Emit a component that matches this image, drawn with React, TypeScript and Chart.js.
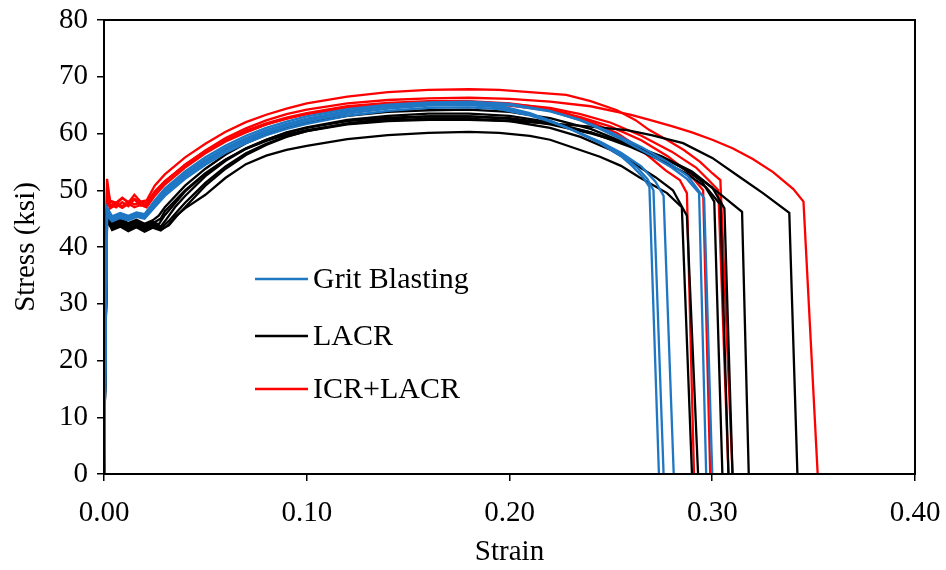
import React, { useEffect, useRef } from "react";
import { Chart, registerables } from "chart.js";

Chart.register(...registerables);

// ---------- axis ranges / ticks ----------
const X_MIN = 0;
const X_MAX = 0.4;
const X_STEP = 0.1;
const Y_MIN = 0;
const Y_MAX = 80;
const Y_STEP = 10;
const X_TITLE = "Strain";
const Y_TITLE = "Stress (ksi)";

// ---------- legend ----------
const GROUP_NAMES = ["Grit Blasting", "LACR", "ICR+LACR"];
const GROUP_COLORS = ["#1F77C4", "#000000", "#FF0000"];

// ---------- Grit Blasting curves [strain, stress] ----------
const gb1 = [[0,0],[0.0015,46.5],[0.004,45],[0.008,45.6],[0.012,45.2],[0.016,45.8],[0.02,45.5],[0.025,47.8],[0.03,49.8],[0.04,52.8],[0.05,55.2],[0.06,57.3],[0.07,59],[0.08,60.4],[0.09,61.5],[0.10,62.4],[0.12,63.8],[0.14,64.7],[0.16,65.2],[0.18,65.3],[0.195,64.9],[0.21,63.6],[0.22,62.3],[0.23,60.8],[0.2446,58.3],[0.255,56],[0.261,54.1],[0.266,52.2],[0.269,50.6],[0.2737,0]];
const gb2 = [[0,0],[0.0015,46],[0.004,44.8],[0.008,45.3],[0.012,44.9],[0.016,45.5],[0.02,45.2],[0.025,47.4],[0.03,49.4],[0.04,52.4],[0.05,54.9],[0.06,57],[0.07,58.7],[0.08,60.1],[0.09,61.2],[0.10,62.1],[0.12,63.5],[0.14,64.4],[0.16,64.9],[0.18,65],[0.195,64.6],[0.21,63.4],[0.22,62.2],[0.23,60.8],[0.245,58.4],[0.255,56.3],[0.263,54],[0.268,52],[0.271,50],[0.276,0]];
const gb3 = [[0,0],[0.0015,45.5],[0.004,44.5],[0.008,45.1],[0.012,44.7],[0.016,45.3],[0.02,45],[0.025,47],[0.03,49],[0.04,52],[0.05,54.5],[0.06,56.6],[0.07,58.3],[0.08,59.7],[0.09,60.8],[0.10,61.7],[0.12,63.1],[0.14,64],[0.16,64.5],[0.18,64.6],[0.195,64.3],[0.21,63.2],[0.22,62.1],[0.23,60.8],[0.245,58.5],[0.255,56.6],[0.265,54.2],[0.272,51.5],[0.276,49],[0.281,0]];
const gb4 = [[0,0],[0.0015,47],[0.004,45.4],[0.008,46],[0.012,45.5],[0.016,46.1],[0.02,45.8],[0.025,48.2],[0.03,50.3],[0.04,53.3],[0.05,55.8],[0.06,57.9],[0.07,59.6],[0.08,61],[0.09,62.1],[0.10,63],[0.12,64.3],[0.14,65.1],[0.16,65.5],[0.18,65.6],[0.20,65.2],[0.22,64],[0.235,62.3],[0.2446,60.8],[0.255,59],[0.269,56.3],[0.28,54],[0.2875,52],[0.2935,49.5],[0.297,0]];
const gb5 = [[0,0],[0.0015,46.2],[0.004,45.2],[0.008,45.8],[0.012,45.3],[0.016,45.9],[0.02,45.6],[0.025,47.8],[0.03,49.9],[0.04,52.9],[0.05,55.4],[0.06,57.5],[0.07,59.2],[0.08,60.6],[0.09,61.7],[0.10,62.6],[0.12,64],[0.14,64.8],[0.16,65.2],[0.18,65.3],[0.20,65],[0.22,63.9],[0.235,62.4],[0.25,60.2],[0.265,57.6],[0.278,55],[0.288,52.5],[0.296,48.6],[0.300,0]];

// ---------- LACR curves ----------
const lacr1 = [[0,0],[0.0015,45],[0.004,43],[0.008,43.6],[0.012,42.8],[0.016,43.5],[0.02,42.7],[0.024,43.4],[0.028,42.9],[0.032,44],[0.035,45.3],[0.04,46.8],[0.05,49.2],[0.06,52.2],[0.07,54.6],[0.08,56.1],[0.09,57.1],[0.10,57.8],[0.12,59],[0.14,59.7],[0.16,60.1],[0.18,60.3],[0.195,60.1],[0.21,59.6],[0.22,58.9],[0.2446,55.9],[0.255,54.3],[0.264,52.3],[0.2777,49.5],[0.285,47],[0.290,0]];
const lacr2 = [[0,0],[0.0015,46],[0.004,44],[0.008,44.6],[0.012,43.8],[0.016,44.4],[0.02,43.6],[0.024,44.2],[0.028,45],[0.03,46.3],[0.04,50],[0.05,53],[0.06,55.4],[0.07,57.3],[0.08,58.7],[0.09,59.8],[0.10,60.6],[0.12,61.7],[0.14,62.3],[0.16,62.6],[0.18,62.6],[0.20,62.2],[0.22,61],[0.235,59.4],[0.25,57.1],[0.261,54.8],[0.272,52.3],[0.2806,50],[0.2875,45.5],[0.293,0]];
const lacr3 = [[0,0],[0.0015,46.5],[0.004,44.5],[0.008,45],[0.012,44.2],[0.016,44.8],[0.02,44.1],[0.024,44.7],[0.027,45.5],[0.03,47],[0.04,50.8],[0.05,53.8],[0.06,56.3],[0.07,58.3],[0.08,59.8],[0.09,61],[0.10,61.9],[0.12,63.1],[0.14,63.8],[0.16,64.1],[0.18,64.2],[0.20,63.8],[0.22,62.7],[0.24,60.8],[0.261,57.8],[0.275,55.7],[0.2856,54],[0.295,51.5],[0.301,48],[0.305,0]];
const lacr4 = [[0,0],[0.0015,45.5],[0.004,43.8],[0.008,44.4],[0.012,43.6],[0.016,44.3],[0.02,43.5],[0.024,44],[0.028,43.6],[0.031,45],[0.035,47],[0.04,49],[0.05,52.5],[0.06,55.2],[0.07,57.3],[0.08,58.9],[0.09,60.2],[0.10,61.1],[0.12,62.4],[0.14,63.1],[0.16,63.5],[0.18,63.5],[0.20,63.1],[0.22,62],[0.24,60.2],[0.26,57.6],[0.275,55.2],[0.287,53],[0.297,50.5],[0.304,47.5],[0.308,0]];
const lacr5 = [[0,0],[0.0015,46],[0.004,44.2],[0.008,44.8],[0.012,44],[0.016,44.6],[0.02,43.9],[0.024,44.4],[0.027,44],[0.03,45.6],[0.04,49.8],[0.05,52.9],[0.06,55.4],[0.07,57.4],[0.08,58.9],[0.09,60.1],[0.10,61],[0.12,62.2],[0.14,62.8],[0.16,63],[0.18,63],[0.20,62.6],[0.22,61.6],[0.24,60],[0.26,58],[0.28,55],[0.295,51.8],[0.305,49],[0.3147,46.2],[0.318,0]];
const lacr6 = [[0,0],[0.0015,45.2],[0.004,43.5],[0.008,44.1],[0.012,43.3],[0.016,43.9],[0.02,43.2],[0.024,43.8],[0.028,43.3],[0.032,44.6],[0.036,46.2],[0.04,47.8],[0.05,51.3],[0.06,54.2],[0.07,56.5],[0.08,58.2],[0.09,59.5],[0.10,60.4],[0.12,61.6],[0.14,62.2],[0.16,62.4],[0.18,62.4],[0.20,62.2],[0.22,61.8],[0.24,61.2],[0.258,60.6],[0.27,59.7],[0.2856,58.3],[0.30,55.7],[0.3137,52.3],[0.325,49.5],[0.338,46],[0.342,0]];
const lacr7 = [[0,0],[0.0015,44.5],[0.004,43.2],[0.008,43.9],[0.012,43.1],[0.016,43.7],[0.02,43],[0.024,43.6],[0.028,43.1],[0.032,43.8],[0.036,45.5],[0.04,47],[0.05,50.8],[0.06,53.8],[0.07,56.2],[0.08,58],[0.09,59.4],[0.10,60.4],[0.12,61.8],[0.14,62.6],[0.16,63],[0.18,63],[0.20,62.7],[0.22,61.8],[0.24,60.2],[0.26,58],[0.275,56],[0.29,53.3],[0.30,50.5],[0.306,46.8],[0.310,0]];

// ---------- ICR+LACR curves ----------
const icr1 = [[0,0],[0.0015,52],[0.003,48],[0.006,47.5],[0.009,48.6],[0.012,47.8],[0.015,49.2],[0.018,48],[0.021,48.2],[0.025,50.8],[0.03,52.8],[0.04,55.8],[0.05,58.2],[0.06,60.3],[0.07,62],[0.08,63.3],[0.09,64.4],[0.10,65.3],[0.12,66.5],[0.14,67.3],[0.16,67.7],[0.18,67.8],[0.195,67.7],[0.21,67.3],[0.228,66.8],[0.24,65.7],[0.253,64.1],[0.262,62.4],[0.269,60.6],[0.278,58.8],[0.286,57.1],[0.294,55],[0.300,53],[0.304,51.8],[0.310,0]];
const icr2 = [[0,0],[0.0015,49.5],[0.003,47.5],[0.006,47],[0.009,47.9],[0.012,47.2],[0.015,48.4],[0.018,47.3],[0.021,47.5],[0.025,49.6],[0.03,51.5],[0.04,54.5],[0.05,56.9],[0.06,58.9],[0.07,60.5],[0.08,61.8],[0.09,62.8],[0.10,63.6],[0.12,64.8],[0.14,65.4],[0.16,65.7],[0.18,65.7],[0.20,65.3],[0.215,64.6],[0.228,63.6],[0.24,62],[0.253,60.1],[0.261,58.2],[0.269,55.9],[0.277,53.5],[0.284,51.8],[0.2875,49.5],[0.291,0]];
const icr3 = [[0,0],[0.0015,49],[0.003,47],[0.006,47.8],[0.009,47.2],[0.012,48],[0.015,47.5],[0.018,47.8],[0.021,47.3],[0.025,49.5],[0.03,51.5],[0.04,54.5],[0.05,57],[0.06,59.2],[0.07,60.9],[0.08,62.3],[0.09,63.4],[0.10,64.2],[0.12,65.3],[0.14,65.9],[0.16,66.2],[0.18,66.3],[0.20,66.1],[0.22,65.6],[0.24,64.8],[0.26,63.3],[0.27,62.3],[0.28,61.3],[0.29,60.2],[0.30,58.9],[0.31,57.4],[0.32,55.5],[0.33,53.2],[0.34,50.2],[0.345,48],[0.352,0]];
const icr4 = [[0,0],[0.0015,48.5],[0.003,46.8],[0.006,47.5],[0.009,46.9],[0.012,47.6],[0.015,47],[0.018,47.4],[0.021,47],[0.025,49],[0.03,51],[0.04,54],[0.05,56.5],[0.06,58.6],[0.07,60.2],[0.08,61.6],[0.09,62.6],[0.10,63.4],[0.12,64.5],[0.14,65],[0.16,65.2],[0.18,65.2],[0.20,64.9],[0.22,64.1],[0.235,62.9],[0.25,61.2],[0.265,58.8],[0.278,56],[0.288,53.2],[0.2955,50],[0.299,0]];
const icr5 = [[0,0],[0.0015,50.5],[0.003,48.2],[0.006,47.8],[0.009,48.7],[0.012,47.9],[0.015,48.5],[0.018,47.9],[0.021,47.8],[0.025,49.8],[0.03,51.6],[0.04,54.4],[0.05,56.7],[0.06,58.7],[0.07,60.3],[0.08,61.6],[0.09,62.6],[0.10,63.4],[0.12,64.6],[0.14,65.2],[0.16,65.5],[0.18,65.5],[0.20,65.2],[0.22,64.5],[0.235,63.4],[0.25,61.9],[0.265,59.6],[0.28,56.8],[0.292,54],[0.299,51.5],[0.303,50],[0.308,0]];

const GRIT = [gb1, gb2, gb3, gb4, gb5];
const LACR = [lacr1, lacr2, lacr3, lacr4, lacr5, lacr6, lacr7];
const ICR = [icr1, icr2, icr3, icr4, icr5];

const FONT_FAMILY = "'Liberation Serif', 'Times New Roman', serif";

export default function App() {
  const canvasRef = useRef<HTMLCanvasElement | null>(null);

  useEffect(() => {
    if (!canvasRef.current) return;

    const groups = [GRIT, LACR, ICR];
    const drawOrder = [1, 2, 3]; // lower = drawn on top
    const datasets: any[] = [];
    groups.forEach((g, gi) => {
      g.forEach((curve, ci) => {
        datasets.push({
          label: `${GROUP_NAMES[gi]} ${ci + 1}`,
          data: curve,
          borderColor: GROUP_COLORS[gi],
          backgroundColor: GROUP_COLORS[gi],
          borderWidth: 2.3,
          pointRadius: 0,
          tension: 0,
          fill: false,
          order: drawOrder[gi],
        });
      });
    });

    const framePlugin = {
      id: "frameLegend",
      afterDatasetsDraw(chart: any) {
        const { ctx, chartArea } = chart;
        const { left, top, right, bottom } = chartArea;
        ctx.save();
        ctx.strokeStyle = "#000";
        ctx.lineWidth = 2;
        ctx.strokeRect(left, top, right - left, bottom - top);

        // legend inside plot
        const lx0 = left + 151;
        const lx1 = left + 204;
        const rows = [top + 259, top + 316, top + 369];
        ctx.font = `30px ${FONT_FAMILY}`;
        ctx.textBaseline = "middle";
        ctx.textAlign = "left";
        GROUP_NAMES.forEach((name, i) => {
          ctx.strokeStyle = GROUP_COLORS[i];
          ctx.lineWidth = 2.5;
          ctx.beginPath();
          ctx.moveTo(lx0, rows[i]);
          ctx.lineTo(lx1, rows[i]);
          ctx.stroke();
          ctx.fillStyle = "#000";
          ctx.fillText(name, lx1 + 5, rows[i] + 1);
        });
        ctx.restore();
      },
    };

    const chart = new Chart(canvasRef.current, {
      type: "line",
      data: { datasets },
      options: {
        animation: false,
        responsive: true,
        maintainAspectRatio: false,
        layout: { padding: { top: 20, right: 31, left: 0, bottom: 0 } },
        plugins: {
          legend: { display: false },
          tooltip: { enabled: false },
        },
        scales: {
          x: {
            type: "linear",
            min: X_MIN,
            max: X_MAX,
            afterFit: (s: any) => {
              s.height = 96;
              s.paddingLeft = 0;
              s.paddingRight = 0;
            },
            border: { display: true, color: "#000", width: 2 },
            grid: {
              drawOnChartArea: false,
              drawTicks: true,
              tickLength: 7,
              color: "#000",
              lineWidth: 1.5,
            },
            ticks: {
              stepSize: X_STEP,
              color: "#000",
              padding: 15,
              font: { family: FONT_FAMILY, size: 29 },
              callback: (v: any) => Number(v).toFixed(2),
            },
            title: {
              display: true,
              text: X_TITLE,
              color: "#000",
              font: { family: FONT_FAMILY, size: 29 },
              padding: { top: 0, bottom: 0 },
            },
          },
          y: {
            type: "linear",
            min: Y_MIN,
            max: Y_MAX,
            afterFit: (s: any) => {
              s.width = 104;
              s.paddingTop = 0;
              s.paddingBottom = 0;
            },
            border: { display: true, color: "#000", width: 2 },
            grid: {
              drawOnChartArea: false,
              drawTicks: true,
              tickLength: 7,
              color: "#000",
              lineWidth: 1.5,
            },
            ticks: {
              stepSize: Y_STEP,
              color: "#000",
              padding: 9,
              font: { family: FONT_FAMILY, size: 29 },
            },
            title: {
              display: true,
              text: Y_TITLE,
              color: "#000",
              font: { family: FONT_FAMILY, size: 29 },
              padding: { top: 9, bottom: 0 },
            },
          },
        },
      },
      plugins: [framePlugin],
    });

    return () => chart.destroy();
  }, []);

  return (
    <div style={{ position: "absolute", left: 0, top: 0, width: 946, height: 570, background: "#fff" }}>
      <canvas ref={canvasRef} />
    </div>
  );
}
